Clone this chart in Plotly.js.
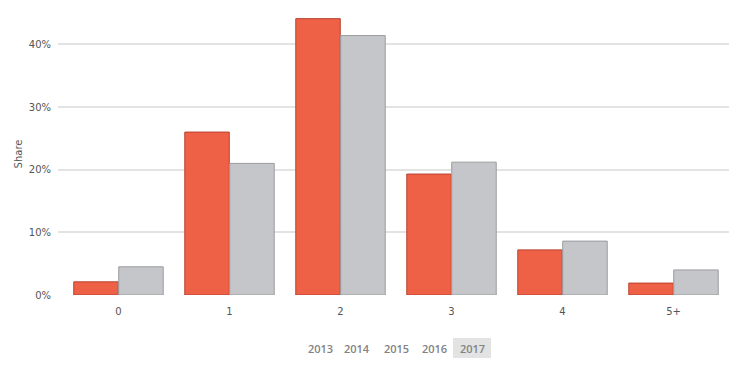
<!DOCTYPE html>
<html>
<head>
<meta charset="utf-8">
<script src="https://cdn.plot.ly/plotly-3.0.1.min.js"></script>
<style>html,body{margin:0;padding:0;background:#fff}#chart{width:734px;height:366px}</style>
</head>
<body>
<div id="chart"></div>
<script>
const categories = ["0", "1", "2", "3", "4", "5+"];
const seriesA = [0.021, 0.260, 0.441, 0.193, 0.072, 0.019];
const seriesB = [0.045, 0.210, 0.414, 0.212, 0.086, 0.040];
const years = ["2013", "2014", "2015", "2016", "2017"];
const activeYear = "2017";

const traces = [
  {type: "bar", x: categories, y: seriesA, name: "A",
   marker: {color: "#EE6146", line: {color: "#B8432F", width: 1}}, hoverinfo: "y"},
  {type: "bar", x: categories, y: seriesB, name: "B",
   marker: {color: "#C5C6C9", line: {color: "#9C9C9F", width: 1}}, hoverinfo: "y"}
];

const L = 58, W = 671, T = 13, H = 282;
const px = v => (v - L) / W;
const py = v => (T + H - v) / H;
const yearX = [320, 357, 396, 434, 472];
const annotations = years.map((yr, i) => ({
  text: yr, xref: "paper", yref: "paper",
  x: px(yearX[i]), y: py(348),
  xanchor: "center", yanchor: "middle", showarrow: false,
  font: {family: "Open Sans", size: 11, color: "#828282", weight: 600}
}));
const ai = years.indexOf(activeYear);
const shapes = [{
  type: "rect", xref: "paper", yref: "paper", layer: "below",
  x0: px(yearX[ai] - 19), x1: px(yearX[ai] + 19), y0: py(358), y1: py(338),
  fillcolor: "#E3E3E3", line: {width: 0}
}];

const layout = {
  width: 734, height: 366,
  margin: {l: L, r: 734 - L - W, t: T, b: 366 - T - H},
  paper_bgcolor: "#fff", plot_bgcolor: "#fff",
  showlegend: false,
  barmode: "group", bargap: 0.19, bargroupgap: 0.01,
  font: {family: "DejaVu Sans", size: 10, color: "#555"},
  xaxis: {type: "category", range: [-0.545, 5.5], showgrid: false, zeroline: false, showline: false,
    ticks: "outside", ticklen: 7, tickcolor: "rgba(0,0,0,0)", tickfont: {size: 10, color: "#555"}},
  yaxis: {range: [0, 0.45], tickvals: [0, 0.1, 0.2, 0.3, 0.4], tickformat: ".0%",
    gridcolor: "#E3E3E3", gridwidth: 2, zeroline: false, showline: false,
    ticks: "outside", ticklen: 4, tickcolor: "rgba(0,0,0,0)", tickfont: {size: 10, color: "#555"},
    title: {text: "Share", font: {size: 10, color: "#555"}, standoff: 4}},
  annotations: annotations,
  shapes: shapes
};

Plotly.newPlot("chart", traces, layout, {displayModeBar: false, staticPlot: true});
</script>
</body>
</html>
